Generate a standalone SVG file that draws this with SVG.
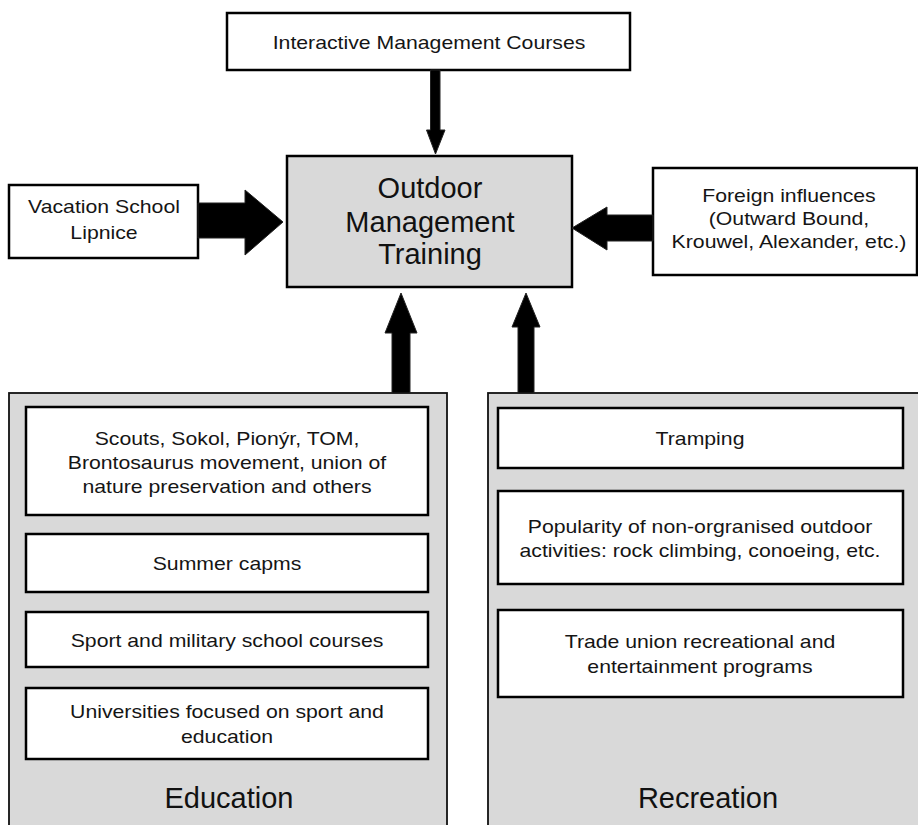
<svg xmlns="http://www.w3.org/2000/svg" width="918" height="825" viewBox="0 0 918 825">
<style>
.box{fill:#ffffff;stroke:#000;stroke-width:2.5}
.gbox{fill:#d9d9d9;stroke:#000;stroke-width:2.5}
.outer{fill:#d9d9d9;stroke:#111;stroke-width:1.8}
.s{font-family:"Liberation Sans",Arial,sans-serif;font-size:18px;fill:#151515;text-anchor:middle}
.b{font-family:"Liberation Sans",Arial,sans-serif;font-size:29px;fill:#111;text-anchor:middle}
.arr{fill:#000;stroke:#222;stroke-width:1}
</style>
<rect width="918" height="825" fill="#fff"/>

<g id="interactive">
<rect class="box" x="227" y="13" width="403" height="57"/>
<text class="s" transform="translate(429,49) scale(1.18,1)">Interactive Management Courses</text>
</g>

<g id="outdoor">
<rect class="gbox" x="287" y="156" width="285" height="131"/>
<text class="b" x="430" y="198">Outdoor</text>
<text class="b" x="430" y="232">Management</text>
<text class="b" x="430" y="264">Training</text>
</g>

<g id="vacation">
<rect class="box" x="9" y="185" width="189" height="73"/>
<text class="s" transform="translate(104,213) scale(1.18,1)"><tspan x="0" y="0">Vacation School</tspan><tspan x="0" y="26">Lipnice</tspan></text>
</g>

<g id="foreign">
<rect class="box" x="653" y="168" width="264" height="107"/>
<text class="s" transform="translate(789,202) scale(1.18,1)"><tspan x="0" y="0">Foreign influences</tspan><tspan x="0" y="23">(Outward Bound,</tspan><tspan x="0" y="46">Krouwel, Alexander, etc.)</tspan></text>
</g>

<g id="education">
<rect class="outer" x="9" y="393" width="438" height="440"/>
<text class="b" x="229" y="808">Education</text>
</g>
<g id="edu-scouts">
<rect class="box" x="26" y="407" width="402" height="108"/>
<text class="s" transform="translate(227,445) scale(1.18,1)"><tspan x="0" y="0">Scouts, Sokol, Pionýr, TOM,</tspan><tspan x="0" y="24">Brontosaurus movement, union of</tspan><tspan x="0" y="48">nature preservation and others</tspan></text>
</g>
<g id="edu-summer">
<rect class="box" x="26" y="534" width="402" height="58"/>
<text class="s" transform="translate(227,570) scale(1.18,1)">Summer capms</text>
</g>
<g id="edu-sport">
<rect class="box" x="26" y="612" width="402" height="55"/>
<text class="s" transform="translate(227,647) scale(1.18,1)">Sport and military school courses</text>
</g>
<g id="edu-univ">
<rect class="box" x="26" y="688" width="402" height="71"/>
<text class="s" transform="translate(227,718) scale(1.18,1)"><tspan x="0" y="0">Universities focused on sport and</tspan><tspan x="0" y="25">education</tspan></text>
</g>

<g id="recreation">
<rect class="outer" x="488" y="393" width="440" height="440"/>
<text class="b" x="708" y="808">Recreation</text>
</g>
<g id="rec-tramping">
<rect class="box" x="498" y="408" width="405" height="60"/>
<text class="s" transform="translate(700,445) scale(1.18,1)">Tramping</text>
</g>
<g id="rec-popularity">
<rect class="box" x="498" y="491" width="405" height="93"/>
<text class="s" transform="translate(700,533) scale(1.18,1)"><tspan x="0" y="0">Popularity of non-orgranised outdoor</tspan><tspan x="0" y="24">activities: rock climbing, conoeing, etc.</tspan></text>
</g>
<g id="rec-trade">
<rect class="box" x="498" y="610" width="405" height="87"/>
<text class="s" transform="translate(700,648) scale(1.18,1)"><tspan x="0" y="0">Trade union recreational and</tspan><tspan x="0" y="25">entertainment programs</tspan></text>
</g>

<g id="connectors">
<polygon class="arr" points="430.5,70 440,70 440,130 445,130 435.5,154 426.5,130 430.5,130"/>
<polygon class="arr" points="198,203 245,203 245,190 283,222 245,255 245,238 198,238"/>
<polygon class="arr" points="653,215 607,215 607,207 572,228 607,250 607,241 653,241"/>
<polygon class="arr" points="392,393 392,333 385,333 401,293 417,333 410,333 410,393"/>
<polygon class="arr" points="518,393 518,327 512,327 526,293 540,327 534,327 534,393"/>
</g>
</svg>
